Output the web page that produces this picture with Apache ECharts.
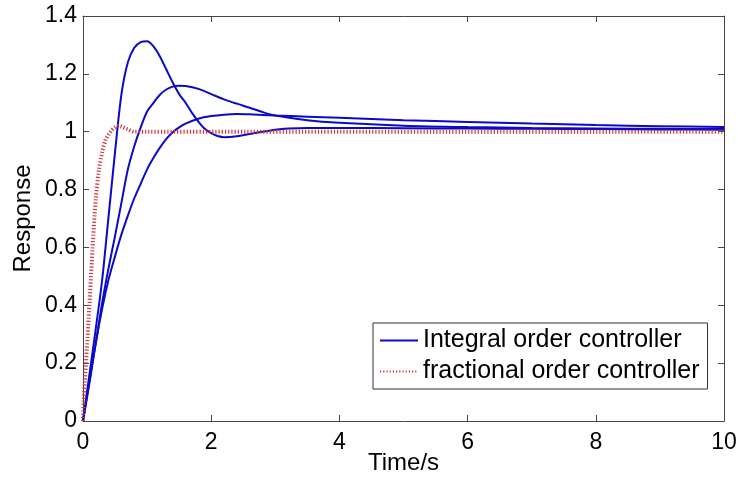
<!DOCTYPE html>
<html>
<head>
<meta charset="utf-8">
<script src="https://cdn.jsdelivr.net/npm/echarts@6/dist/echarts.min.js"></script>
<style>
  html, body { margin: 0; padding: 0; background: #fff; }
  #chart { width: 738px; height: 477px; }
</style>
</head>
<body>
<div id="chart"></div>
<script>
// integral order controller, three responses
const tInt1 = [0, 0.1, 0.2, 0.3, 0.4, 0.5, 0.6, 0.7, 0.8, 0.9, 1.0, 1.1, 1.2, 1.3, 1.4, 1.5, 1.6, 1.7, 1.8, 1.9, 2.0, 2.1, 2.2, 2.4, 2.6, 2.8, 3.0, 3.2, 3.5, 4, 5, 6, 7, 8, 9, 10]
const yInt1 = [0, 0.16, 0.32, 0.49, 0.71, 0.93, 1.13, 1.24, 1.29, 1.31, 1.313, 1.295, 1.26, 1.215, 1.17, 1.13, 1.10, 1.065, 1.035, 1.01, 0.995, 0.985, 0.981, 0.984, 0.992, 1.0, 1.007, 1.011, 1.013, 1.013, 1.012, 1.011, 1.01, 1.009, 1.008, 1.007]

const tInt2 = [0, 0.1, 0.2, 0.3, 0.4, 0.5, 0.6, 0.7, 0.8, 0.9, 1.0, 1.1, 1.2, 1.3, 1.4, 1.5, 1.6, 1.8, 2.0, 2.2, 2.4, 2.6, 2.8, 3.0, 3.5, 4, 5, 6, 7, 8, 9, 10]
const yInt2 = [0, 0.14, 0.27, 0.41, 0.53, 0.64, 0.755, 0.87, 0.95, 1.015, 1.07, 1.10, 1.128, 1.146, 1.156, 1.159, 1.158, 1.148, 1.13, 1.112, 1.097, 1.083, 1.068, 1.056, 1.04, 1.031, 1.021, 1.016, 1.013, 1.011, 1.01, 1.009]

const tInt3 = [0, 0.1, 0.2, 0.3, 0.4, 0.5, 0.6, 0.7, 0.8, 0.9, 1.0, 1.1, 1.2, 1.3, 1.4, 1.5, 1.6, 1.8, 2.0, 2.2, 2.4, 2.6, 2.8, 3.0, 3.5, 4, 5, 6, 7, 8, 9, 10]
const yInt3 = [0, 0.13, 0.27, 0.39, 0.49, 0.57, 0.645, 0.71, 0.77, 0.82, 0.87, 0.91, 0.945, 0.975, 0.998, 1.015, 1.028, 1.045, 1.054, 1.059, 1.061, 1.06, 1.058, 1.056, 1.052, 1.048, 1.04, 1.034, 1.028, 1.023, 1.019, 1.016]

// fractional order controller
const tFrac = [0, 0.01, 0.03, 0.06, 0.1, 0.15, 0.2, 0.25, 0.3, 0.35, 0.4, 0.45, 0.5, 0.55, 0.6, 0.7, 0.8, 1.0, 2, 4, 6, 8, 10]
const yFrac = [0, 0.07, 0.14, 0.25, 0.4, 0.6, 0.77, 0.87, 0.93, 0.97, 0.99, 1.005, 1.015, 1.02, 1.018, 1.008, 1.0, 1.0, 1.0, 1.0, 1.0, 1.0, 1.0]

const seriesNames = ['Integral order controller', 'fractional order controller']
const xTicks = { min: 0, max: 10, interval: 2 }
const yTicks = { min: 0, max: 1.4, interval: 0.2 }

const pairs = (ts, ys) => ts.map((t, i) => [t, ys[i]])

const font = 'Arial, "Liberation Sans", sans-serif'
const axisColor = '#444'

function boxAxis(extra) {
  return Object.assign({
    type: 'value',
    axisLine: { show: true, onZero: false, lineStyle: { color: axisColor, width: 1 } },
    axisTick: { show: true, inside: true, length: 6, lineStyle: { color: axisColor } },
    splitLine: { show: false },
    axisLabel: { show: false },
  }, extra)
}

const labelStyle = { show: true, color: '#000', fontSize: 23, fontFamily: font }

const blueLine = { color: '#0a0ac8', width: 2 }
const redLine = { color: '#d0343a', width: 4, type: [1.2, 2] }

function blueSeries(ts, ys) {
  return {
    name: seriesNames[0],
    type: 'line',
    data: pairs(ts, ys),
    symbol: 'none',
    smooth: 0.3,
    lineStyle: blueLine,
    itemStyle: { color: blueLine.color },
  }
}

const chart = echarts.init(document.getElementById('chart'), null, { renderer: 'canvas' })

chart.setOption({
  animation: false,
  backgroundColor: '#fff',
  grid: { left: 83, right: 14, top: 16, bottom: 56, containLabel: false, outerBoundsMode: 'none' },
  legend: {
    orient: 'vertical',
    left: 373,
    top: 323,
    data: seriesNames,
    itemWidth: 38,
    itemHeight: 14,
    itemGap: 6,
    padding: [5, 8, 5, 6],
    borderColor: '#333',
    borderWidth: 1,
    backgroundColor: '#fff',
    itemStyle: { opacity: 0 },
    textStyle: { color: '#000', fontSize: 25, fontFamily: font },
  },
  xAxis: [
    boxAxis(Object.assign({
      position: 'bottom',
      name: 'Time/s',
      nameLocation: 'middle',
      nameGap: 30,
      nameMoveOverlap: false,
      nameTextStyle: { color: '#000', fontSize: 24, fontFamily: font, verticalAlign: 'top' },
      axisLabel: Object.assign({ margin: 10 }, labelStyle),
    }, xTicks)),
    boxAxis(Object.assign({ position: 'top' }, xTicks)),
  ],
  yAxis: [
    boxAxis(Object.assign({
      position: 'left',
      name: 'Response',
      nameLocation: 'middle',
      nameGap: 48,
      nameMoveOverlap: false,
      nameTextStyle: { color: '#000', fontSize: 24, fontFamily: font },
      axisLabel: Object.assign({ margin: 6 }, labelStyle),
    }, yTicks)),
    boxAxis(Object.assign({ position: 'right' }, yTicks)),
  ],
  series: [
    blueSeries(tInt1, yInt1),
    blueSeries(tInt2, yInt2),
    blueSeries(tInt3, yInt3),
    {
      name: seriesNames[1],
      type: 'line',
      data: pairs(tFrac, yFrac),
      symbol: 'none',
      smooth: 0.3,
      lineStyle: redLine,
      itemStyle: { color: redLine.color },
    },
  ],
})
</script>
</body>
</html>
